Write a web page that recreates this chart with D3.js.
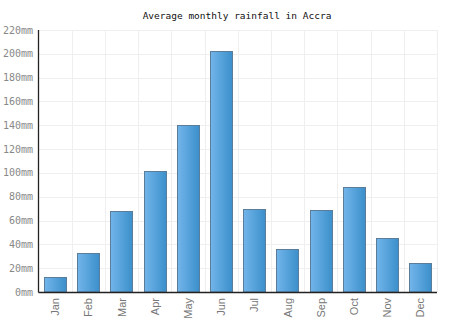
<!DOCTYPE html>
<html><head><meta charset="utf-8">
<script src="https://cdn.jsdelivr.net/npm/d3@7"></script>
<style>body{margin:0;background:#fff}svg{display:block}</style>
</head><body><svg id="c" width="474" height="331"></svg>
<script>
const months = ["Jan","Feb","Mar","Apr","May","Jun","Jul","Aug","Sep","Oct","Nov","Dec"];
const rainfall = [13,33,68,102,140,202,70,36,69,88,45,24];
const yTicks = [0,20,40,60,80,100,120,140,160,180,200,220];
const title = "Average monthly rainfall in Accra";

const svg = d3.select("#c");
const m = {l:38.5, r:437, t:30, b:292};
const x = d3.scaleBand().domain(months).range([m.l, m.r]).paddingInner(0.33).paddingOuter(0.165);
const xg = d3.scaleBand().domain(months).range([m.l, m.r]);
const y = d3.scaleLinear().domain([0,220]).range([m.b, m.t]);

const defs = svg.append("defs");
const g = defs.append("linearGradient").attr("id","bg").attr("x1","0").attr("x2","1").attr("y1","0").attr("y2","0");
g.append("stop").attr("offset","0").attr("stop-color","#72b5ea");
g.append("stop").attr("offset","1").attr("stop-color","#3b8fcb");

// grid
svg.append("g").selectAll("line").data(yTicks.slice(1)).join("line")
  .attr("x1", m.l).attr("x2", m.r).attr("y1", d=>Math.round(y(d))+0.5).attr("y2", d=>Math.round(y(d))+0.5)
  .attr("stroke","#efefef").attr("stroke-width",1);
svg.append("g").selectAll("line").data(months).join("line")
  .attr("x1", d=>Math.round(xg(d)+xg.bandwidth())+0.5).attr("x2", d=>Math.round(xg(d)+xg.bandwidth())+0.5)
  .attr("y1", m.t).attr("y2", m.b)
  .attr("stroke","#efefef").attr("stroke-width",1);

// bars
svg.append("g").selectAll("rect").data(rainfall).join("rect")
  .attr("x", (d,i)=>Math.round(x(months[i]))+0.5)
  .attr("width", Math.round(x.bandwidth()))
  .attr("y", d=>Math.round(y(d))+0.5)
  .attr("height", d=>m.b - Math.round(y(d)) - 0.5)
  .attr("fill","url(#bg)")
  .attr("stroke","#5b7d9a").attr("stroke-width",1);

// axes
svg.append("line").attr("x1",m.l).attr("x2",m.l).attr("y1",m.t).attr("y2",m.b+0.5).attr("stroke","#222").attr("stroke-width",1.3);
svg.append("line").attr("x1",m.l).attr("x2",m.r).attr("y1",m.b+0.5).attr("y2",m.b+0.5).attr("stroke","#222").attr("stroke-width",1.3);

// y labels
svg.append("g").selectAll("text").data(yTicks).join("text")
  .attr("x", 33).attr("y", d=>y(d)+3.5)
  .attr("text-anchor","end")
  .attr("font-family","'DejaVu Sans Mono', monospace").attr("font-size",10)
  .attr("fill","#888").text(d=>d+"mm");

// x labels
svg.append("g").selectAll("text").data(months).join("text")
  .attr("transform", d=>`translate(${x(d)+x.bandwidth()/2+4},${m.b+6}) rotate(-90)`)
  .attr("text-anchor","end")
  .attr("font-family","'Liberation Sans', Arial, sans-serif").attr("font-size",11)
  .attr("fill","#777").text(d=>d);

// title
svg.append("text").attr("x",237).attr("y",19).attr("text-anchor","middle")
  .attr("font-family","'DejaVu Sans Mono', monospace").attr("font-size",9.5)
  .attr("fill","#111").text(title);
</script></body></html>
